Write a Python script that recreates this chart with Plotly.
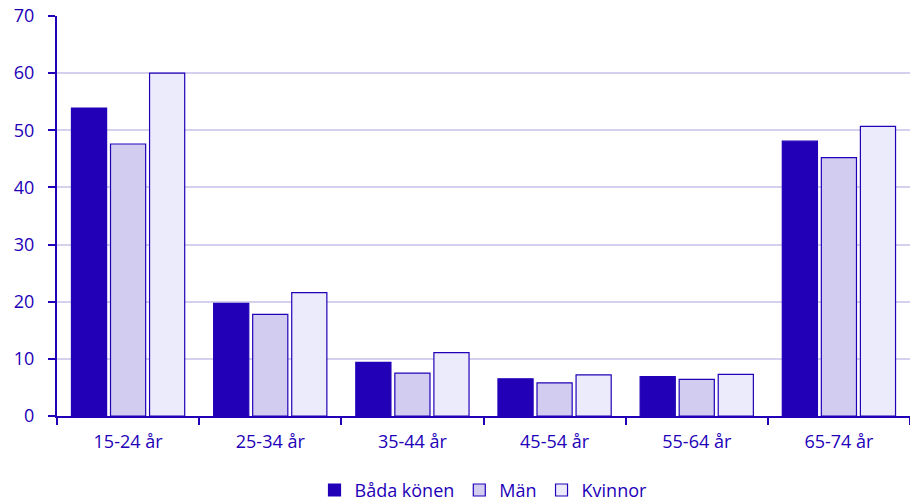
import plotly.graph_objects as go

categories = ["15-24 år", "25-34 år", "35-44 år", "45-54 år", "55-64 år", "65-74 år"]
bada = [53.9, 19.7, 9.4, 6.5, 6.9, 48.1]
man = [47.6, 17.8, 7.5, 5.8, 6.4, 45.2]
kvinnor = [60.0, 21.6, 11.1, 7.2, 7.3, 50.7]
series_names = ["Båda könen", "Män", "Kvinnor"]

dark = "#2200B8"
fills = ["#2200B8", "#D2CDF0", "#ECEBFC"]

fig = go.Figure()
for name, vals, col in zip(series_names, [bada, man, kvinnor], fills):
    fig.add_trace(go.Bar(
        x=categories, y=vals, name=name,
        marker=dict(color=col, line=dict(color=dark, width=1.2)),
    ))

fig.update_layout(
    width=910, height=503,
    margin=dict(l=57, r=0, t=16, b=87, autoexpand=False),
    paper_bgcolor="white", plot_bgcolor="white",
    barmode="group", bargap=0.176, bargroupgap=0.1,
    font=dict(family="Open Sans, sans-serif", size=18, color=dark),
    showlegend=True,
    legend=dict(orientation="h", x=0.5, xanchor="center", y=-0.232, yanchor="bottom",
                font=dict(size=18, color=dark), traceorder="normal"),
    xaxis=dict(showline=True, linecolor=dark, linewidth=2, ticks="outside",
               tickson="boundaries", ticklen=7, tickcolor=dark, tickwidth=2,
               showgrid=False, tickfont=dict(size=18, color=dark),
               ticklabelstandoff=8, automargin=False),
    yaxis=dict(range=[0, 70], dtick=10, showline=True, linecolor=dark, linewidth=2,
               ticks="outside", ticklen=7, tickcolor=dark, tickwidth=2,
               gridcolor="#D4D0EE", gridwidth=2, zeroline=False,
               tickfont=dict(size=18, color=dark), ticklabelstandoff=10,
               automargin=False),
)

fig.write_html("out.html", config={"displayModeBar": False},
               post_script="document.body.style.margin='0';document.body.style.overflow='hidden';")
